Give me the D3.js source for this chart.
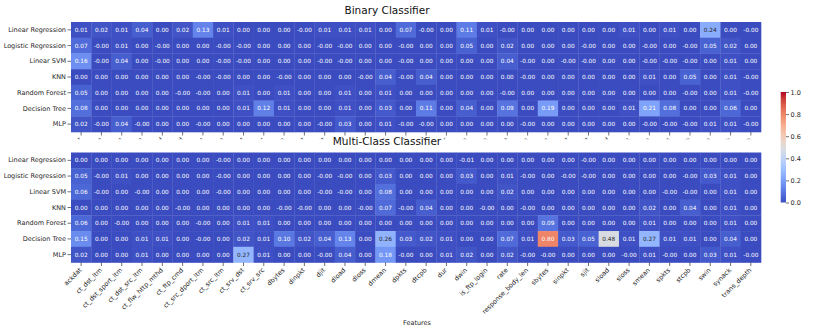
<!DOCTYPE html>
<html>
<head>
<meta charset="utf-8">
<script src="https://cdn.jsdelivr.net/npm/d3@7"></script>
<style>
  body { margin: 0; background: #fff; }
  text { font-family: "DejaVu Sans", sans-serif; }
</style>
</head>
<body>
<svg id="chart" width="830" height="332"></svg>
<script>
// feature names on the x axis
const features = ["ackdat", "ct_dst_ltm", "ct_dst_sport_ltm", "ct_dst_src_ltm", "ct_flw_http_mthd",
  "ct_ftp_cmd", "ct_src_dport_ltm", "ct_src_ltm", "ct_srv_dst", "ct_srv_src", "dbytes", "dinpkt",
  "djit", "dload", "dloss", "dmean", "dpkts", "dtcpb", "dur", "dwin", "is_ftp_login", "rate",
  "response_body_len", "sbytes", "sinpkt", "sjit", "sload", "sloss", "smean", "spkts", "stcpb",
  "swin", "synack", "trans_depth"];

const models = ["Linear Regression", "Logistic Regression", "Linear SVM", "KNN",
  "Random Forest", "Decision Tree", "MLP"];

// -0.001 stands for the "-0.00" cells
const binaryValues = [
  [0.01, 0.02, 0.01, 0.04, 0.00, 0.02, 0.13, 0.01, 0.00, 0.00, 0.00, -0.001, 0.01, 0.01, 0.01, 0.00, 0.07, -0.001, 0.00, 0.11, 0.01, -0.001, 0.00, 0.00, 0.00, 0.00, 0.00, 0.01, 0.00, 0.01, 0.00, 0.24, 0.00, -0.001],
  [0.07, -0.001, 0.01, 0.00, -0.001, 0.00, 0.00, -0.001, -0.001, 0.00, 0.00, 0.00, -0.001, -0.001, 0.00, 0.00, -0.001, 0.00, 0.00, 0.05, 0.00, 0.02, 0.00, 0.00, 0.00, -0.001, 0.00, 0.00, -0.001, 0.00, -0.001, 0.05, 0.02, 0.00],
  [0.16, -0.001, 0.04, 0.00, -0.001, 0.00, 0.00, -0.001, -0.001, 0.00, 0.00, 0.00, -0.001, -0.001, 0.00, 0.00, -0.001, 0.00, 0.00, 0.00, 0.00, 0.04, -0.001, 0.00, -0.001, -0.001, 0.00, 0.00, -0.001, -0.001, -0.001, 0.00, 0.01, 0.00],
  [0.00, 0.00, 0.00, 0.00, 0.00, 0.00, -0.001, -0.001, 0.00, 0.00, -0.001, 0.00, 0.00, 0.00, -0.001, 0.04, -0.001, 0.04, 0.00, 0.00, 0.00, 0.00, -0.001, 0.00, 0.00, 0.00, 0.00, 0.00, 0.01, 0.00, 0.05, 0.00, 0.01, -0.001],
  [0.05, 0.00, 0.00, 0.00, 0.00, -0.001, -0.001, 0.00, 0.01, 0.00, 0.01, 0.00, 0.00, 0.01, 0.00, 0.01, 0.00, 0.00, 0.00, 0.00, 0.00, -0.001, 0.00, 0.00, 0.00, 0.00, 0.00, 0.00, 0.00, 0.00, -0.001, 0.00, 0.01, -0.001],
  [0.08, 0.00, 0.00, 0.00, 0.00, 0.00, 0.00, 0.00, 0.01, 0.12, 0.01, 0.00, 0.00, 0.01, 0.00, 0.03, 0.00, 0.11, 0.00, 0.04, 0.00, 0.09, 0.00, 0.19, 0.00, 0.00, 0.00, 0.01, 0.21, 0.08, 0.00, 0.00, 0.06, 0.00],
  [0.02, -0.001, 0.04, -0.001, 0.00, 0.00, -0.001, 0.00, 0.00, 0.00, 0.00, 0.00, -0.001, 0.03, 0.00, 0.01, -0.001, -0.001, 0.00, 0.00, 0.00, 0.00, -0.001, 0.00, 0.00, 0.00, 0.00, 0.00, -0.001, -0.001, -0.001, 0.01, 0.01, -0.001]
];

const multiValues = [
  [0.00, 0.00, 0.00, 0.00, 0.00, 0.00, 0.00, -0.001, 0.00, 0.00, 0.00, 0.00, 0.00, 0.00, 0.00, 0.00, 0.00, 0.00, 0.00, -0.01, 0.00, 0.00, 0.00, 0.00, 0.00, -0.001, 0.00, 0.00, 0.00, 0.00, 0.00, 0.00, 0.00, 0.00],
  [0.05, -0.001, 0.01, 0.00, 0.00, 0.00, 0.00, -0.001, 0.00, 0.00, 0.00, 0.00, -0.001, -0.001, 0.00, 0.03, 0.00, 0.00, 0.00, 0.03, 0.00, 0.01, -0.001, 0.00, -0.001, -0.001, 0.00, 0.00, 0.00, 0.00, -0.001, 0.03, 0.01, 0.00],
  [0.06, -0.001, 0.00, -0.001, 0.00, 0.00, 0.00, -0.001, 0.00, 0.00, 0.00, 0.00, -0.001, -0.001, 0.00, 0.08, 0.00, 0.00, 0.00, 0.00, 0.00, 0.02, 0.00, 0.00, 0.00, 0.00, 0.00, 0.00, 0.00, -0.001, -0.001, 0.00, 0.01, 0.00],
  [0.00, 0.00, 0.00, 0.00, 0.00, -0.001, 0.00, 0.00, 0.00, 0.00, -0.001, -0.001, 0.00, 0.00, -0.001, 0.07, -0.001, 0.04, 0.00, 0.00, -0.001, 0.00, -0.001, 0.00, 0.00, 0.00, 0.00, 0.00, 0.02, 0.00, 0.04, 0.00, 0.01, 0.00],
  [0.06, 0.00, -0.001, 0.00, 0.00, 0.00, -0.001, 0.00, 0.01, 0.01, 0.00, 0.00, 0.00, 0.00, 0.00, 0.00, 0.00, 0.00, 0.00, 0.00, 0.00, 0.00, 0.00, 0.09, 0.00, 0.00, 0.00, 0.00, 0.01, 0.00, 0.00, 0.00, 0.01, 0.00],
  [0.15, 0.00, 0.00, 0.01, 0.01, 0.00, -0.001, 0.00, 0.02, 0.01, 0.10, 0.02, 0.04, 0.13, 0.00, 0.26, 0.03, 0.02, 0.01, 0.00, 0.00, 0.07, 0.01, 0.80, 0.03, 0.05, 0.48, 0.01, 0.27, 0.01, 0.01, 0.00, 0.04, 0.00],
  [0.02, 0.00, 0.00, 0.01, 0.00, 0.00, 0.00, 0.00, 0.27, 0.01, 0.00, 0.00, -0.001, 0.04, 0.00, 0.18, -0.001, 0.00, 0.01, 0.02, 0.00, 0.02, -0.001, -0.001, 0.00, 0.00, 0.00, -0.001, 0.01, -0.001, 0.00, 0.03, 0.01, -0.001]
];

const colorbarTicks = [0, 0.2, 0.4, 0.6, 0.8, 1.0];

// matplotlib "coolwarm" anchors
const coolwarmStops = ["#3b4cc0", "#4d68d7", "#6282ea", "#779af7", "#8db0fe", "#a3c2ff",
  "#b8d0f9", "#ccd9ee", "#dddddd", "#ecd3c5", "#f5c4ad", "#f7b194", "#f49a7b",
  "#ec7f63", "#de604d", "#cb3e38", "#b40426"];

const svg = d3.select("#chart");
const defs = svg.append("defs");
const color = d3.scaleLinear()
  .domain(d3.range(coolwarmStops.length).map(i => i / (coolwarmStops.length - 1)))
  .range(coolwarmStops)
  .interpolate(d3.interpolateRgb)
  .clamp(true);

const x = d3.scaleBand().domain(features).range([71, 761]);

// seaborn picks dark text on light cells
function textColor(c) {
  const rgb = d3.rgb(c);
  const lin = v => { v /= 255; return v <= 0.03928 ? v / 12.92 : Math.pow((v + 0.055) / 1.055, 2.4); };
  const lum = 0.2126 * lin(rgb.r) + 0.7152 * lin(rgb.g) + 0.0722 * lin(rgb.b);
  return lum > 0.408 ? "#262626" : "#fff";
}

function drawHeatmap(values, top, title, showLabels) {
  const y = d3.scaleBand().domain(models).range([top, top + 110]);
  const g = svg.append("g");

  const rows = g.selectAll(".row").data(values).join("g").attr("class", "row");
  rows.selectAll("rect")
    .data((row, i) => row.map((v, j) => ({ v, model: models[i], feature: features[j] })))
    .join("rect")
    .attr("x", d => x(d.feature))
    .attr("y", d => y(d.model))
    .attr("width", x.bandwidth() + 0.3)
    .attr("height", y.bandwidth() + 0.3)
    .attr("fill", d => color(d.v));

  rows.selectAll("text")
    .data((row, i) => row.map((v, j) => ({ v, model: models[i], feature: features[j] })))
    .join("text")
    .attr("x", d => x(d.feature) + x.bandwidth() / 2)
    .attr("y", d => y(d.model) + y.bandwidth() / 2)
    .attr("dy", "0.35em")
    .attr("text-anchor", "middle")
    .attr("font-size", 5.8)
    .attr("fill", d => textColor(color(d.v)))
    .text(d => d.v.toFixed(2));

  const yAxis = g.append("g")
    .attr("transform", "translate(71,0)")
    .call(d3.axisLeft(y).tickSize(3.5).tickPadding(1.5));
  yAxis.select(".domain").remove();
  yAxis.selectAll("line").attr("stroke", "#333").attr("stroke-width", 0.7);
  yAxis.selectAll("text").attr("font-size", 6.5).attr("fill", "#262626")
    .attr("font-family", "DejaVu Sans, sans-serif");

  // wrapper without transform so the clip works in page coordinates
  const xWrap = g.append("g");
  if (!showLabels) xWrap.attr("clip-path", "url(#topClip)");
  const xAxis = xWrap.append("g")
    .attr("transform", `translate(0,${top + 110})`)
    .call(d3.axisBottom(x).tickSize(3.5));
  xAxis.select(".domain").remove();
  xAxis.selectAll("line").attr("stroke", "#333").attr("stroke-width", 0.7);
  xAxis.selectAll("text")
    .attr("font-size", 6.5)
    .attr("fill", "#262626")
    .attr("font-family", "DejaVu Sans, sans-serif")
    .attr("text-anchor", "end")
    .attr("dy", null)
    .attr("y", null)
    .attr("transform", "translate(1,8) rotate(-45)");

  svg.append("text")
    .attr("x", 387)
    .attr("y", top - 8)
    .attr("text-anchor", "middle")
    .attr("font-size", 10.5)
    .attr("fill", "#111")
    .text(title);
}

// the lower panel hides almost all of the upper panel's feature labels
defs.append("clipPath").attr("id", "topClip")
  .append("rect").attr("x", 0).attr("y", 0).attr("width", 830).attr("height", 139.3);

drawHeatmap(binaryValues, 22, "Binary Classifier", false);
drawHeatmap(multiValues, 152.5, "Multi-Class Classifier", true);

svg.append("text")
  .attr("x", 417)
  .attr("y", 325)
  .attr("text-anchor", "middle")
  .attr("font-size", 6.5)
  .attr("fill", "#262626")
  .text("Features");

// colorbar
const cb = d3.scaleLinear().domain([0, 1]).range([202.5, 92]);
const grad = defs.append("linearGradient")
  .attr("id", "cbGrad").attr("x1", 0).attr("y1", 1).attr("x2", 0).attr("y2", 0);
grad.selectAll("stop").data(coolwarmStops).join("stop")
  .attr("offset", (d, i) => i / (coolwarmStops.length - 1))
  .attr("stop-color", d => d);
svg.append("rect")
  .attr("x", 780.7).attr("y", cb(1)).attr("width", 5.3).attr("height", cb(0) - cb(1))
  .attr("fill", "url(#cbGrad)");
const cbAxis = svg.append("g")
  .attr("transform", "translate(786,0)")
  .call(d3.axisRight(cb).tickValues(colorbarTicks).tickFormat(d3.format(".1f")).tickSize(3).tickPadding(1.5));
cbAxis.select(".domain").remove();
cbAxis.selectAll("line").attr("stroke", "#333").attr("stroke-width", 0.7);
cbAxis.selectAll("text").attr("font-size", 6.5).attr("fill", "#262626")
  .attr("font-family", "DejaVu Sans, sans-serif");
</script>
</body>
</html>
